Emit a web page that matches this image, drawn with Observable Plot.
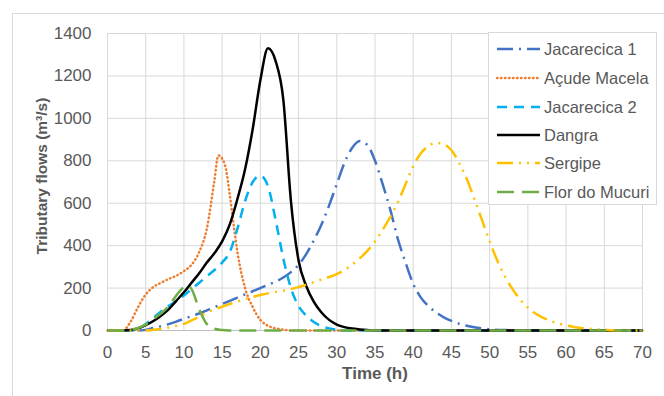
<!DOCTYPE html>
<html>
<head>
<meta charset="utf-8">
<script src="https://cdn.jsdelivr.net/npm/d3@7"></script>
<script src="https://cdn.jsdelivr.net/npm/@observablehq/plot@0.6"></script>
<style>
  body { margin: 0; background: #fff; }
  #wrap { position: relative; width: 664px; height: 396px; overflow: hidden; font-family: "Liberation Sans", Arial, sans-serif; }
  #frame { position: absolute; left: 12px; top: 13px; width: 700px; height: 500px; border-top: 1px solid #D9D9D9; border-left: 1px solid #D9D9D9; }
  #chart { position: absolute; left: 0; top: 0; }
  #legend { position: absolute; left: 488px; top: 32px; width: 169px; height: 173px; background: #fff; border: 1px solid #D9D9D9; box-sizing: border-box; }
  .item { position: absolute; left: 0; height: 20px; display: flex; align-items: center; }
  .item span { font-size: 16.5px; color: #595959; margin-left: 4px; white-space: nowrap; }
</style>
</head>
<body>
<div id="wrap">
  <div id="frame"></div>
  <div id="chart"></div>
  <div id="legend"></div>
</div>
<script>
// ---- data (hours, m³/s) ----
const seriesNames = ["Jacarecica 1", "Açude Macela", "Jacarecica 2", "Dangra", "Sergipe", "Flor do Mucuri"];
const seriesColors = ["#4472C4", "#ED7D31", "#00B0F0", "#000000", "#FFC000", "#70AD47"];
const seriesDashes = ["16,6,2,6", "0.5,3.5", "10,7", null, "16,6,2,6,2,6", "17,8"];

const jac1T = [0,4,5,6,7,8,9,10,11,12,13,14,15,16,17,18,19,20,21,22,23,24,25,26,27,28,29,30,31,32,33,34,35,36,37,38,39,40,41,42,43,44,45,46,47,48,49,50,52,54,70];
const jac1Q = [0,0,3,12,20,30,42,55,68,80,95,110,125,140,155,170,185,200,215,230,250,275,310,360,425,500,590,690,790,860,893,875,800,690,570,430,320,220,155,115,85,62,45,32,22,15,10,6,2,0,0];

const macelaT = [0,2,3,4,5,6,7,8,9,10,11,12,13,14,14.5,15,15.5,16,16.5,17,18,19,20,21,22,23,24,70];
const macelaQ = [0,0,40,110,170,205,225,243,258,280,310,370,480,710,825,810,760,640,500,370,200,110,50,22,10,4,0,0];

const jac2T = [0,3,4,5,6,7,8,9,10,11,12,13,14,15,16,17,18,19,20,21,22,23,24,25,26,27,28,29,30,31,70];
const jac2Q = [0,0,8,30,60,90,115,140,165,195,225,255,285,320,370,480,610,700,730,680,520,340,200,115,70,40,20,10,4,0,0];

const dangraT = [0,2,3,4,5,6,7,8,9,10,11,12,13,14,15,16,17,18,19,20,21,22,23,24,25,26,27,28,29,30,31,32,33,34,35,70];
const dangraQ = [0,0,2,10,25,45,70,100,140,180,225,270,320,365,420,500,620,760,950,1180,1330,1270,1090,610,330,210,135,85,50,28,16,9,5,2,0,0];

const sergipeT = [0,5,6,7,8,9,10,11,12,13,14,15,16,17,18,19,20,21,22,23,24,25,26,27,28,29,30,31,32,33,34,35,36,37,38,39,40,41,42,43,44,45,46,47,48,49,50,51,52,53,54,55,56,57,58,59,60,61,62,63,64,65,66,67,70];
const sergipeQ = [0,0,3,8,14,22,31,48,65,85,100,112,125,137,148,158,167,175,182,188,195,205,216,228,240,252,266,285,310,340,375,420,475,535,605,690,775,835,870,884,878,850,790,715,620,520,420,330,255,195,145,108,80,60,45,33,24,17,12,8,5,3,1,0,0];

const florT = [0,2,3,4,5,6,7,8,9,10,10.5,11,12,13,14,15,16,70];
const florQ = [0,0,3,12,28,55,80,115,165,205,212,195,100,30,8,2,0,0];

const xTicks = [0,5,10,15,20,25,30,35,40,45,50,55,60,65,70];
const yTicks = [0,200,400,600,800,1000,1200,1400];

// ---- build table ----
const seriesT = [jac1T, macelaT, jac2T, dangraT, sergipeT, florT];
const seriesQ = [jac1Q, macelaQ, jac2Q, dangraQ, sergipeQ, florQ];
const rows = seriesNames.flatMap((name, k) => seriesT[k].map((t, i) => ({series: name, t, q: seriesQ[k][i]})));

const textColor = "#595959";
const lineMarks = seriesNames.map((name, k) => Plot.line(rows.filter(d => d.series === name), {
  x: "t", y: "q",
  stroke: seriesColors[k],
  strokeWidth: 2.5,
  strokeDasharray: seriesDashes[k] || undefined,
  strokeLinecap: k === 1 ? "round" : "butt",
  curve: "monotone-x"
}));

const chart = Plot.plot({
  width: 664,
  height: 396,
  marginLeft: 107,
  marginRight: 22,
  marginTop: 33,
  marginBottom: 66,
  style: {fontFamily: "'Liberation Sans', Arial, sans-serif", color: textColor, background: "transparent"},
  x: {domain: [0, 70]},
  y: {domain: [0, 1400]},
  marks: [
    Plot.gridX(xTicks, {stroke: "#D9D9D9", strokeOpacity: 1}),
    Plot.gridY(yTicks, {stroke: "#D9D9D9", strokeOpacity: 1}),
    Plot.ruleY([0], {stroke: "#BFBFBF"}),
    Plot.axisX(xTicks, {tickSize: 0, tickPadding: 15, fontSize: 17, label: null, tickFormat: d => String(d)}),
    Plot.axisY(yTicks, {tickSize: 0, tickPadding: 16, fontSize: 17, label: null, tickFormat: d => String(d)}),
    ...lineMarks,
    Plot.text(["Time (h)"], {frameAnchor: "bottom", dy: 48, fontSize: 17, fontWeight: "bold", fill: textColor}),
    Plot.text(["Tributary flows (m³/s)"], {frameAnchor: "left", textAnchor: "middle", dx: -65, dy: -6, rotate: -90, fontSize: 15.5, fontWeight: "bold", fill: textColor})
  ]
});
document.getElementById("chart").appendChild(chart);

// ---- legend ----
const legend = document.getElementById("legend");
const itemTops = [16, 45, 74, 102, 130, 159];
seriesNames.forEach((name, k) => {
  const div = document.createElement("div");
  div.className = "item";
  div.style.top = (itemTops[k] - 10) + "px";
  div.style.left = "7px";
  const dash = seriesDashes[k] ? `stroke-dasharray="${seriesDashes[k]}"` : "";
  const cap = k === 1 ? "round" : "butt";
  div.innerHTML = `<svg width="44" height="20"><line x1="1" y1="10" x2="44" y2="10" stroke="${seriesColors[k]}" stroke-width="2.5" stroke-linecap="${cap}" ${dash}/></svg><span>${name}</span>`;
  legend.appendChild(div);
});
</script>
</body>
</html>
